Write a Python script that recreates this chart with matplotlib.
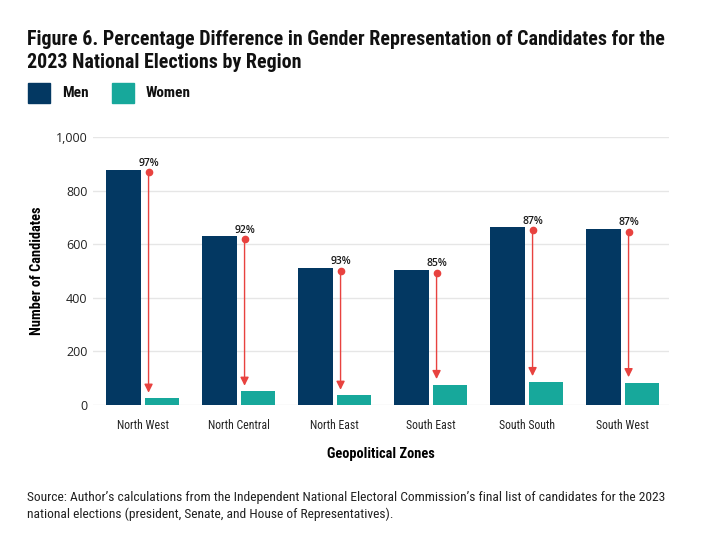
"""Gender representation of 2023 candidates by geopolitical zone."""

import matplotlib
matplotlib.use("Agg")
import matplotlib.pyplot as plt
import matplotlib.transforms as mtransforms
from matplotlib.patches import Rectangle

zones = ["North West", "North Central", "North East", "South East", "South South", "South West"]
men = [878, 629, 511, 504, 663, 657]
women = [25, 51, 36, 76, 87, 83]
pct_diff = ["97%", "92%", "93%", "85%", "87%", "87%"]
y_ticks = [0, 200, 400, 600, 800, 1000]
y_tick_labels = ["0", "200", "400", "600", "800", "1,000"]

MEN_COLOR = "#033862"
WOMEN_COLOR = "#17a89b"
ARROW_COLOR = "#e8423f"
GRID_COLOR = "#e6e6e6"

NARROW = ["Roboto Condensed", "Fira Sans Condensed", "Roboto"]
WIDE = ["Open Sans", "DejaVu Sans"]

fig = plt.figure(figsize=(7.2, 5.56), dpi=100)
ax = fig.add_axes([0.129, 0.2716, 0.8, 0.482])

x = list(range(len(zones)))
bar_w = 0.36
ax.bar([i - 0.2 for i in x], men, width=bar_w, color=MEN_COLOR, zorder=2)
ax.bar([i + 0.2 for i in x], women, width=bar_w, color=WOMEN_COLOR, zorder=2)

# red drop arrows from men level to women level
dot_tr = mtransforms.offset_copy(ax.transData, fig=fig, x=0, y=-2, units="points")
for i, (m, w, p) in enumerate(zip(men, women, pct_diff)):
    ax_x = i + 0.06
    ax.annotate("", xy=(ax_x, w), xytext=(ax_x, m),
                arrowprops=dict(arrowstyle="-|>,head_length=0.5,head_width=0.25",
                                color=ARROW_COLOR, lw=1.0, shrinkA=2, shrinkB=4),
                zorder=3)
    ax.plot([ax_x], [m], marker="o", ms=4.5, color=ARROW_COLOR, transform=dot_tr, zorder=4)
    ax.annotate(p, xy=(ax_x, m), xytext=(0, 0.5), textcoords="offset points",
                ha="center", va="bottom", fontsize=7.5, fontweight="semibold",
                family=WIDE, color="#1a1a1a")

ax.set_xlim(-0.52, 5.48)
ax.set_ylim(0, 1000)
ax.set_yticks(y_ticks)
ax.set_yticklabels(y_tick_labels, family=WIDE, fontsize=9, color="#222222")
ax.set_xticks(x)
ax.set_xticklabels(zones, family=NARROW, fontsize=8.5, color="#222222")
ax.tick_params(axis="both", length=0)
ax.tick_params(axis="y", pad=4)
ax.tick_params(axis="x", pad=10)
ax.grid(axis="y", color=GRID_COLOR, lw=1.0, zorder=0)
ax.set_axisbelow(True)
for spine in ax.spines.values():
    spine.set_visible(False)

ax.set_ylabel("Number of Candidates", family=NARROW, fontsize=10.4, fontweight="bold", labelpad=8)
ax.set_xlabel("Geopolitical Zones", family=NARROW, fontsize=10.4, fontweight="bold", labelpad=11)

fig.text(0.0375, 1 - 51 / 556, "Figure 6. Percentage Difference in Gender Representation of Candidates for the\n"
         "2023 National Elections by Region", family=NARROW, fontsize=14.4, fontweight="bold",
         va="center", ha="left", linespacing=1.3, color="#111111")

# legend
for x0, color, label in [(28, MEN_COLOR, "Men"), (112, WOMEN_COLOR, "Women")]:
    fig.patches.append(Rectangle((x0 / 720, 1 - 103 / 556), 22 / 720, 20 / 556,
                                 transform=fig.transFigure, color=color))
    fig.text((x0 + 34) / 720, 1 - 93 / 556, label, family=NARROW, fontsize=11,
             fontweight="semibold", va="center", ha="left", color="#111111")

fig.text(0.0375, 1 - 506 / 556,
         "Source: Author\u2019s calculations from the Independent National Electoral Commission\u2019s final list of candidates for the 2023\n"
         "national elections (president, Senate, and House of Representatives).",
         family=NARROW, fontsize=9.7, va="center", ha="left", linespacing=1.4, color="#222222")

fig.savefig("out.png", dpi=100)
